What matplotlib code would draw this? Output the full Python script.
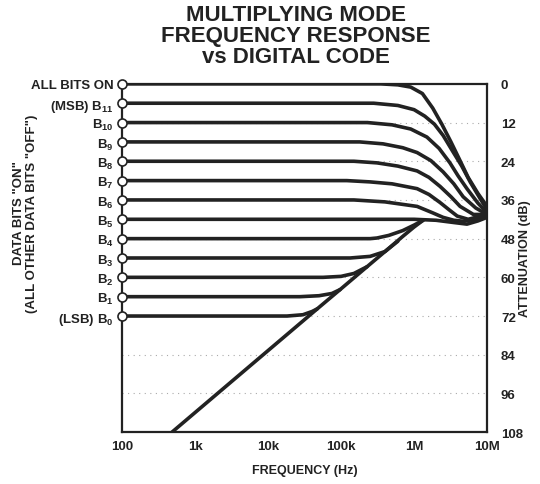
import matplotlib
matplotlib.use("Agg")
import matplotlib.pyplot as plt

plt.rcParams['font.family'] = ['Liberation Sans', 'DejaVu Sans']
plt.rcParams['font.weight'] = 'bold'
plt.rcParams['mathtext.fontset'] = 'custom'
plt.rcParams['mathtext.rm'] = 'Liberation Sans:bold'
plt.rcParams['mathtext.it'] = 'Liberation Sans:bold'
plt.rcParams['mathtext.bf'] = 'Liberation Sans:bold'
plt.rcParams['mathtext.default'] = 'rm'

## Data (frequency in Hz, attenuation in dB)
bit_labels = ['ALL BITS ON', r'(MSB) $\mathrm{B}_{11}$', r'$\mathrm{B}_{10}$', r'$\mathrm{B}_{9}$',
              r'$\mathrm{B}_{8}$', r'$\mathrm{B}_{7}$', r'$\mathrm{B}_{6}$', r'$\mathrm{B}_{5}$',
              r'$\mathrm{B}_{4}$', r'$\mathrm{B}_{3}$', r'$\mathrm{B}_{2}$', r'$\mathrm{B}_{1}$',
              r'(LSB) $\mathrm{B}_{0}$']
bit_levels = [0, 6, 12, 18, 24, 30, 36, 42, 48, 54, 60, 66, 72]

freq_all = [100, 350e3, 600e3, 900e3, 1.3e6, 1.8e6, 2.4e6, 3.2e6, 4.2e6, 5.5e6, 7.5e6, 10e6]
att_all  = [0, 0, 0.3, 1.0, 3.0, 7.5, 12.5, 18, 23.5, 29, 34, 38]

freq_b11 = [100, 280e3, 600e3, 1.0e6, 1.4e6, 1.9e6, 2.5e6, 3.4e6, 4.5e6, 5.9e6, 8e6, 10e6]
att_b11  = [6, 6, 6.7, 8.0, 10.0, 12.5, 16, 21, 25.5, 30.5, 35.5, 39]

freq_b10 = [100, 230e3, 500e3, 900e3, 1.5e6, 2.2e6, 3.1e6, 4.0e6, 5.3e6, 7.5e6, 10e6]
att_b10  = [12, 12, 12.7, 14, 16.5, 20, 24.5, 28.5, 32.5, 37, 40]

freq_b9 = [100, 180e3, 376e3, 700e3, 1.1e6, 1.7e6, 2.5e6, 3.5e6, 4.7e6, 7e6, 10e6]
att_b9  = [18, 18, 18.6, 19.8, 21.3, 23.8, 27.3, 31, 35, 38.5, 40.5]

freq_b8 = [100, 150e3, 311e3, 600e3, 1.1e6, 1.6e6, 2.27e6, 3.2e6, 4.27e6, 6.5e6, 10e6]
att_b8  = [24, 24, 24.5, 25.5, 27, 29, 31.8, 35, 38, 40.5, 40.5]

freq_b7 = [100, 120e3, 250e3, 500e3, 1.1e6, 1.6e6, 2.27e6, 3.0e6, 3.9e6, 5.5e6, 10e6]
att_b7  = [30, 30, 30.4, 31, 32.5, 34.3, 36.8, 39, 41, 42, 40.5]

freq_b6 = [100, 150e3, 400e3, 1.1e6, 1.8e6, 2.5e6, 3.5e6, 4.7e6, 7e6, 10e6]
att_b6  = [36, 36, 36.6, 38, 40, 41.4, 42.3, 42.6, 42, 40.5]

freq_b5 = [100, 1.0e6, 2.0e6, 3.5e6, 5.3e6, 7.5e6, 10e6]
att_b5  = [42, 42, 42.3, 43, 43.5, 42.5, 41.4]

freq_b4 = [100, 250e3, 311e3, 450e3, 700e3, 1.0e6, 1.33e6]
att_b4  = [48, 48, 47.8, 47, 45.5, 43.8, 42.3]

freq_b3 = [100, 133e3, 250e3, 400e3, 600e3]
att_b3  = [54, 54, 53.5, 52, 48.8]

freq_b2 = [100, 56.7e3, 100e3, 150e3, 227e3]
att_b2  = [60, 60, 59.7, 58.8, 56.7]

freq_b1 = [100, 27.4e3, 50e3, 75e3, 97e3]
att_b1  = [66, 66, 65.7, 65, 63.8]

freq_b0 = [100, 18.2e3, 30e3, 40e3, 47e3]
att_b0  = [72, 72, 71.6, 70.6, 69.8]

# feedthrough line
freq_ft = [484, 5e3, 47e3, 97e3, 227e3, 400e3, 700e3, 1.0e6, 1.33e6]
att_ft  = [108, 88.5, 69.8, 63.8, 56.7, 52.0, 47.3, 44.4, 42.3]

curves = [(freq_all, att_all), (freq_b11, att_b11), (freq_b10, att_b10), (freq_b9, att_b9),
          (freq_b8, att_b8), (freq_b7, att_b7), (freq_b6, att_b6), (freq_b5, att_b5),
          (freq_b4, att_b4), (freq_b3, att_b3), (freq_b2, att_b2), (freq_b1, att_b1),
          (freq_b0, att_b0)]

freq_ticks = [100, 1e3, 1e4, 1e5, 1e6, 1e7]
freq_tick_labels = ['100', '1k', '10k', '100k', '1M', '10M']
att_ticks = [0, 12, 24, 36, 48, 60, 72, 84, 96, 108]

## Plot
ink = '#222222'
fig = plt.figure(figsize=(5.4, 4.85), dpi=100)
ax = fig.add_axes([0.226, 0.107, 0.676, 0.718])

for lvl in att_ticks[1:-1]:
    ax.axhline(lvl, color='#aaaaaa', lw=0.8, ls=(0, (1, 4)), zorder=1)

for f, a in curves:
    ax.plot(f, a, color=ink, lw=2.6, solid_capstyle='round', solid_joinstyle='round', zorder=3)
ax.plot(freq_ft, att_ft, color=ink, lw=2.6, solid_capstyle='round', zorder=3)

ax.plot([100] * len(bit_levels), bit_levels, 'o', ms=6.5, mfc='white', mec=ink, mew=1.2,
        clip_on=False, zorder=5)

ax.set_xscale('log')
ax.set_xlim(100, 1e7)
ax.set_ylim(108, 0)
ax.set_xticks(freq_ticks)
ax.set_xticklabels(freq_tick_labels)
ax.minorticks_off()
ax.set_yticks(bit_levels)
ax.set_yticklabels(bit_labels)
ax.tick_params(axis='both', length=0, labelsize=9.5, colors=ink)
ax.tick_params(axis='y', pad=6)
ax.tick_params(axis='x', pad=6)
for s in ax.spines.values():
    s.set_color(ink)
    s.set_linewidth(1.6)

ax2 = ax.twinx()
ax2.set_ylim(108, 0)
ax2.set_yticks(att_ticks)
ax2.tick_params(axis='y', length=0, labelsize=9.5, colors=ink, pad=10)
for s in ax2.spines.values():
    s.set_visible(False)

ax.set_xlabel('FREQUENCY (Hz)', fontsize=9, fontweight='bold', color=ink, labelpad=8)
fig.text(0.972, 0.466, 'ATTENUATION (dB)', rotation=90, ha='center', va='center',
         fontsize=9, fontweight='bold', color=ink)
fig.text(0.047, 0.56, 'DATA BITS "ON"\n(ALL OTHER DATA BITS "OFF")', rotation=90,
         ha='center', va='center', fontsize=9.5, fontweight='bold', color=ink, linespacing=1.1)

fig.text(0.548, 0.99, 'MULTIPLYING MODE\nFREQUENCY RESPONSE\nvs DIGITAL CODE',
         ha='center', va='top', fontsize=16, fontweight='bold', color=ink, linespacing=1.0)

fig.savefig('out.png', dpi=100, facecolor='white')
